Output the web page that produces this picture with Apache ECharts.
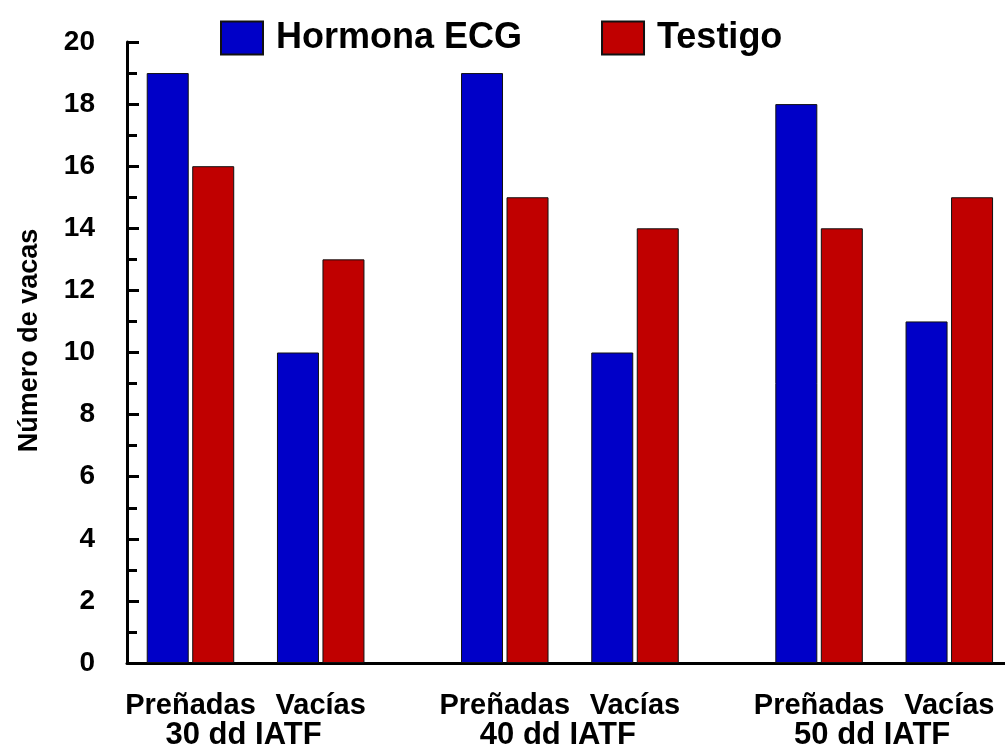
<!DOCTYPE html>
<html>
<head>
<meta charset="utf-8">
<title>Número de vacas</title>
<script src="https://cdn.jsdelivr.net/npm/echarts@6/dist/echarts.min.js"></script>
<style>
  html, body { margin: 0; padding: 0; background: #fff; }
  #chart { width: 1005px; height: 746px; }
</style>
</head>
<body>
<div id="chart"></div>
<script>
// datos
const grupos = ['30 dd IATF', '40 dd IATF', '50 dd IATF'];
const estados = ['Preñadas', 'Vacías'];
const hormonaPrenadas = [19, 19, 18];
const hormonaVacias = [10, 10, 11];
const testigoPrenadas = [16, 15, 14];
const testigoVacias = [13, 14, 15];

// separacion entre barras (unidades del eje x)
const PASO_BARRA = 1;
const PASO_PAR = 2.862;
const PASO_GRUPO = 6.907;
const posX = (g, s, b) => g * PASO_GRUPO + s * PASO_PAR + b * PASO_BARRA;

const font = 'Liberation Sans, Arial, sans-serif';

const serieDatos = (prenadas, vacias, b) => {
  const out = [];
  grupos.forEach((_, g) => {
    out.push([posX(g, 0, b), prenadas[g]]);
    out.push([posX(g, 1, b), vacias[g]]);
  });
  return out;
};

const etiquetasEstado = [];
const etiquetasGrupo = [];
grupos.forEach((nombre, g) => {
  estados.forEach((e, s) => {
    etiquetasEstado.push({ value: [posX(g, s, 0.5), 0], name: e });
  });
  etiquetasGrupo.push({ value: [(posX(g, 0, 0) + posX(g, 1, 1)) / 2, 0], name: nombre });
});

const chart = echarts.init(document.getElementById('chart'));

const option = {
  animation: false,
  grid: { left: 127, right: 0, top: 42, bottom: 83, outerBoundsMode: 'none' },
  legend: {
    data: ['Hormona ECG', 'Testigo'],
    left: 215,
    top: 15,
    itemWidth: 42,
    itemHeight: 33,
    itemGap: 79,
    icon: 'rect',
    textStyle: { fontFamily: font, fontWeight: 'bold', fontSize: 36, color: '#000', padding: [4, 0, 0, 8] }
  },
  xAxis: {
    type: 'value',
    min: -0.895,
    max: 18.4,
    axisLine: { show: true, onZero: false, lineStyle: { color: '#000', width: 3 } },
    axisTick: { show: false },
    axisLabel: { show: false },
    splitLine: { show: false }
  },
  yAxis: {
    type: 'value',
    min: 0,
    max: 20,
    interval: 2,
    name: 'Número de vacas',
    nameLocation: 'middle',
    nameGap: 84,
    nameTextStyle: { fontFamily: font, fontWeight: 'bold', fontSize: 27, color: '#000', padding: [0, 0, 0, 24] },
    axisLine: { show: true, onZero: false, lineStyle: { color: '#000', width: 3 } },
    axisTick: { show: true, inside: true, length: 12, lineStyle: { color: '#000', width: 3 } },
    minorTick: { show: true, splitNumber: 2, length: 10, lineStyle: { color: '#000', width: 3 } },
    axisLabel: { margin: 32, fontFamily: font, fontWeight: 'bold', fontSize: 28, color: '#000' },
    splitLine: { show: false }
  },
  series: [
    {
      name: 'Hormona ECG',
      type: 'bar',
      barWidth: 42,
      barGap: '-100%',
      itemStyle: { color: '#0000C8', borderColor: '#111', borderWidth: 1 },
      data: serieDatos(hormonaPrenadas, hormonaVacias, 0)
    },
    {
      name: 'Testigo',
      type: 'bar',
      barWidth: 42,
      barGap: '-100%',
      itemStyle: { color: '#C00000', borderColor: '#111', borderWidth: 1 },
      data: serieDatos(testigoPrenadas, testigoVacias, 1)
    },
    {
      type: 'scatter',
      symbolSize: 0,
      silent: true,
      clip: false,
      itemStyle: { opacity: 1 },
      data: etiquetasEstado,
      label: {
        show: true,
        position: 'bottom',
        distance: 28,
        formatter: p => p.name,
        fontFamily: font, fontWeight: 'bold', fontSize: 29, color: '#000'
      }
    },
    {
      type: 'scatter',
      symbolSize: 0,
      silent: true,
      clip: false,
      itemStyle: { opacity: 1 },
      data: etiquetasGrupo,
      label: {
        show: true,
        position: 'bottom',
        distance: 57,
        offset: [-12, 0],
        formatter: p => p.name,
        fontFamily: font, fontWeight: 'bold', fontSize: 31, color: '#000'
      }
    }
  ]
};

chart.setOption(option);
</script>
</body>
</html>
